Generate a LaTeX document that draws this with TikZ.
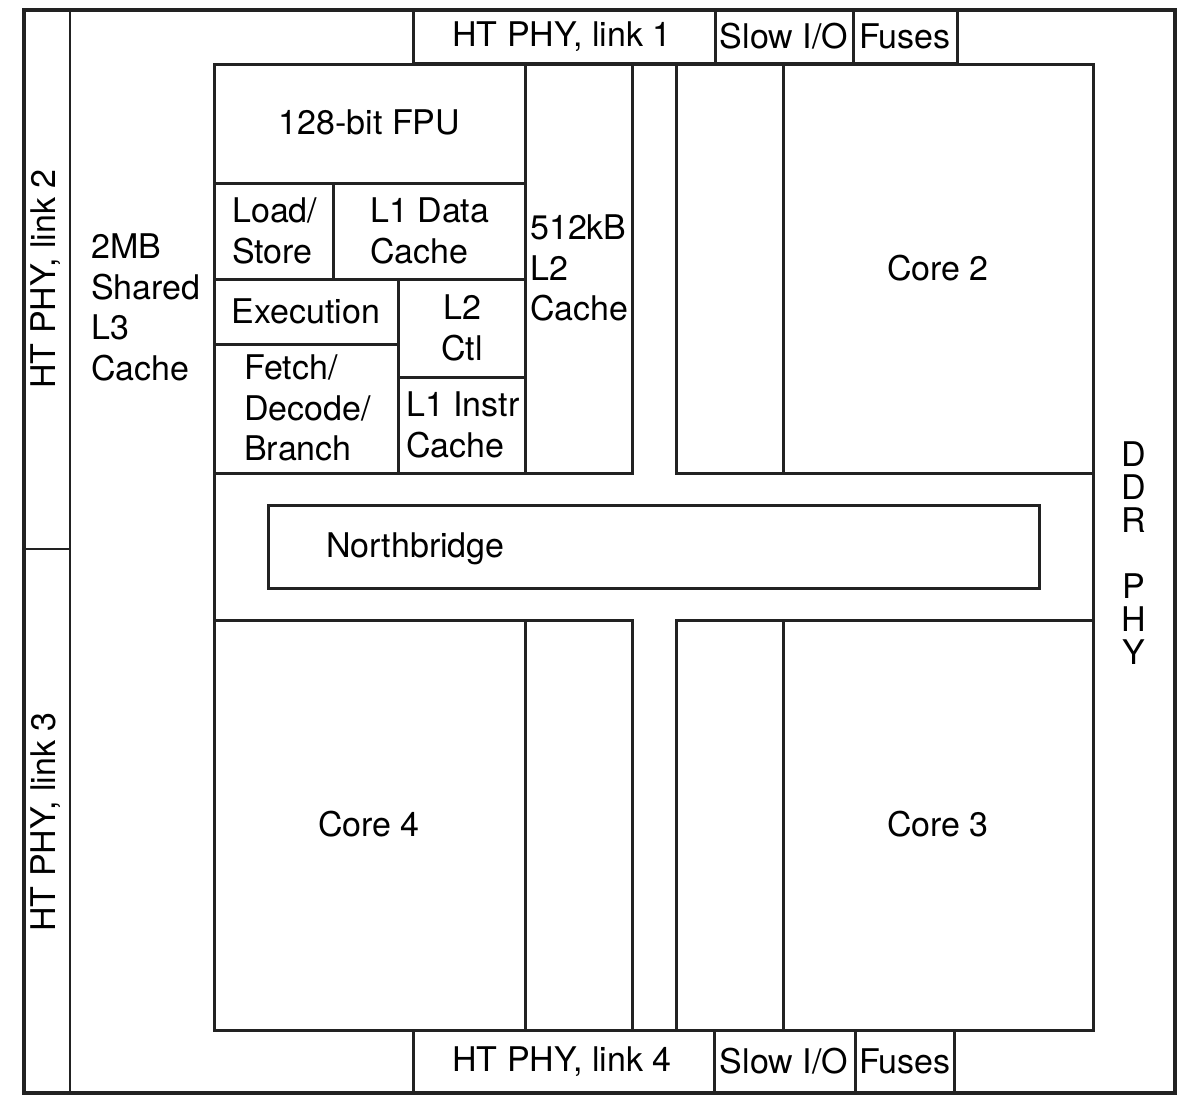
\documentclass[tikz,border=0pt]{standalone}
\usepackage{fontspec}
\setmainfont{TeX Gyre Heros}
\definecolor{ink}{HTML}{222222}
\begin{document}
\begin{tikzpicture}[x=1pt,y=-1pt,
  outer/.style={draw=ink,line width=4.5pt,line join=miter},
  wall/.style={draw=ink,line width=3pt,line cap=rect},
  thinwall/.style={draw=ink,line width=2.5pt,line cap=rect},
  lbl/.style={inner sep=0pt,font=\fontsize{34}{40.5}\selectfont,text=black},
  lblL/.style={lbl,align=left,anchor=west},
  lblC/.style={lbl,align=center,anchor=center},
]
\useasboundingbox (0,0) rectangle (1184,1095);
\fill[white] (0,0) rectangle (1184,1095);

% die outline and left HT column
\draw[outer] (24,10) rectangle (1175,1093);
\draw[thinwall] (70,10) -- (70,1093);
\draw[thinwall] (24,549) -- (70,549);

% top I/O strip
\draw[wall] (413,10) -- (413,63) -- (957,63) -- (957,10);
\draw[wall] (715,10) -- (715,63);
\draw[wall] (853,10) -- (853,63);
% bottom I/O strip
\draw[wall] (413,1093) -- (413,1030);
\draw[wall] (714,1093) -- (714,1030);
\draw[wall] (855,1093) -- (855,1030);
\draw[wall] (954,1093) -- (954,1030);

% core region
\draw[wall] (214,64) rectangle (1093,1030);

% core 1 detail
\draw[wall] (214,473) -- (632,473) -- (632,64);
\draw[wall] (525,64) -- (525,473);
\draw[wall] (214,183) -- (525,183);
\draw[wall] (333,183) -- (333,279);
\draw[wall] (214,279) -- (525,279);
\draw[wall] (398,279) -- (398,473);
\draw[wall] (214,344) -- (398,344);
\draw[wall] (398,377) -- (525,377);

% core 2
\draw[wall] (676,64) -- (676,473) -- (1093,473);
\draw[wall] (783,64) -- (783,473);

% core 4
\draw[wall] (214,620) -- (632,620) -- (632,1030);
\draw[wall] (525,620) -- (525,1030);

% core 3
\draw[wall] (1093,620) -- (676,620) -- (676,1030);
\draw[wall] (783,620) -- (783,1030);

% northbridge
\draw[wall] (268,505) rectangle (1039,588);

% labels
\node[lblC] (ht1) at (562,37) {HT PHY, link 1};
\node[lblC] (sio1) at (784,36) {Slow I/O};
\node[lblC] (fus1) at (905,36) {Fuses};
\node[lblC] (ht4) at (562,1062) {HT PHY, link 4};
\node[lblC] (sio4) at (784,1061) {Slow I/O};
\node[lblC] (fus4) at (905,1061) {Fuses};
\node[lblC,rotate=90] (ht2) at (46,279) {HT PHY, link 2};
\node[lblC,rotate=90] (ht3) at (46,822) {HT PHY, link 3};
\node[lblL] (l3) at (91,307.5) {2MB\\Shared\\L3\\Cache};
\node[lblC] (fpu) at (369.5,122) {128-bit FPU};
\node[lblL] (ls) at (232,231) {Load/\\Store};
\node[lblL] (l1d) at (370,231) {L1 Data\\Cache};
\node[lblC] (exe) at (306,311) {Execution};
\node[lblC] (l2c) at (462,328) {L2\\Ctl};
\node[lblL] (fdb) at (244,408) {Fetch/\\Decode/\\Branch};
\node[lblL] (l1i) at (406,425) {L1 Instr\\Cache};
\node[lblL] (l2) at (530,268) {512kB\\L2\\Cache};
\node[lblC] (c2) at (938,268) {Core 2};
\node[lbl,anchor=west] (nb) at (326,549) {Northbridge};
\node[lblC] (c4) at (369,824) {Core 4};
\node[lblC] (c3) at (938,824) {Core 3};
\node[lbl,align=center,font=\fontsize{34}{33}\selectfont] (ddr) at (1134,553) {D\\D\\R\\[33pt]P\\H\\Y};
\end{tikzpicture}
\end{document}
